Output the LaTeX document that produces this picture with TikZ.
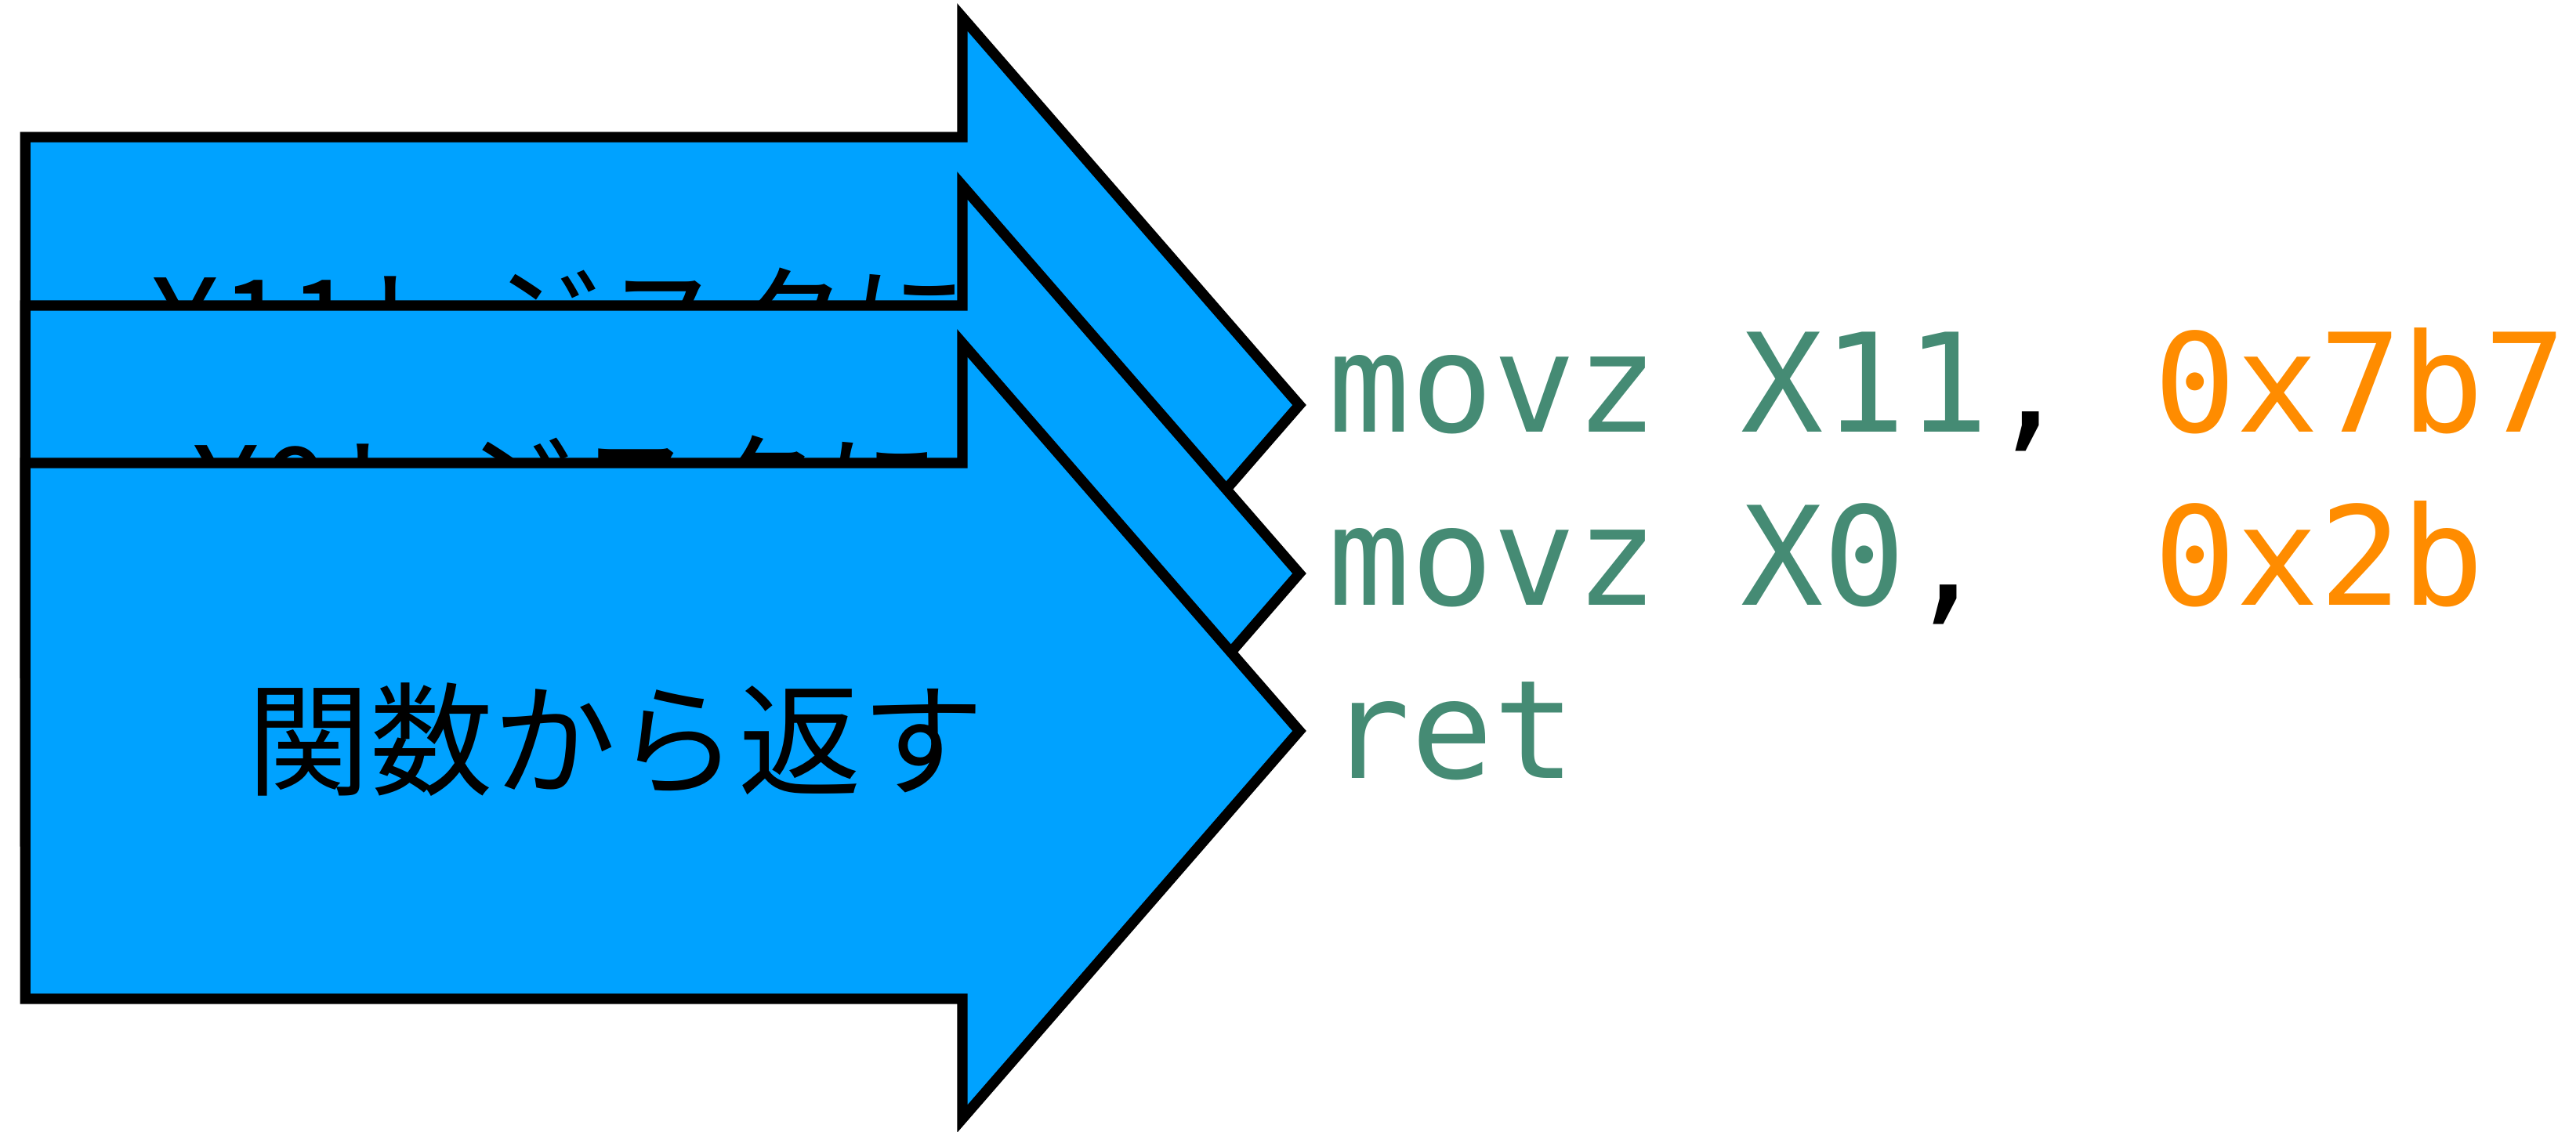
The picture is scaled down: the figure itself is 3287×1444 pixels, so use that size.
\documentclass[tikz,border=0pt]{standalone}
\usepackage{fontspec}
\usepackage{xcolor}
\usepackage{tikz}
\newfontfamily\jpfont{Noto Sans CJK JP}
\newfontfamily\codefont{DejaVu Sans Mono}
\definecolor{kfill}{HTML}{00A2FF}
\definecolor{kcode}{HTML}{458B74}
\definecolor{knum}{HTML}{FF8C00}
% #1 = name of the tip, #2 = y of the tip
\newcommand{\steparrow}[2]{%
  \coordinate (#1) at (1658,#2);
  \draw[kshape] (32.3,{#2-342}) -- (1228,{#2-342}) -- (1228,{#2-495})
    -- (#1) -- (1228,{#2+495}) -- (1228,{#2+342}) -- (32.3,{#2+342}) -- cycle;
}

\begin{document}
\begin{tikzpicture}[x=0.1mm, y=-0.1mm,
  kshape/.style={fill=kfill, draw=black, line width=1.33mm},
  jplabel/.style={font=\jpfont\fontsize{44.6pt}{53pt}\selectfont, text=black,
    inner sep=0pt, anchor=base west},
  codeline/.style={font=\codefont\fontsize{49.8pt}{60pt}\selectfont, text=kcode,
    inner sep=0pt, anchor=base west}]

  \useasboundingbox (0,0) rectangle (3287,1444);

  %% three steps, each one laid over the last
  \steparrow{tipa}{517}
  \node[jplabel] (stepa) at (191,469) {X11レジスタに};

  \steparrow{tipb}{732}
  \node[jplabel] (stepb) at (243,683) {X0レジスタに};

  \steparrow{tipc}{933}
  \node[jplabel] (stepc) at (315,1003) {関数から返す};

  %% the code
  \node[codeline] (movx) at (1694,551)
    {movz X11\textcolor{black}{,} \textcolor{knum}{0x7b7}};
  \node[codeline] (movr) at (1694,772)
    {movz X0\textcolor{black}{,}\ \ \textcolor{knum}{0x2b}};
  \node[codeline] (ret) at (1694,993) {ret};

\end{tikzpicture}
\end{document}
